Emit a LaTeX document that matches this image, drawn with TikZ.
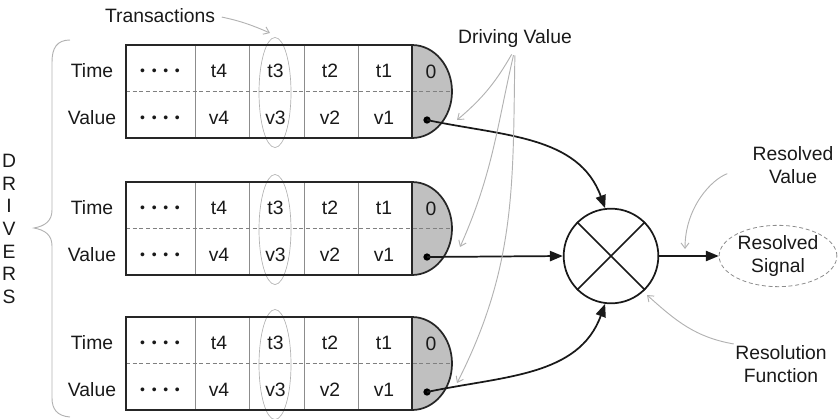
\documentclass[tikz,border=0pt]{standalone}
\usepackage{fontspec}
\setmainfont{Liberation Sans}
\usepackage{tikz}
\usetikzlibrary{arrows.meta,calc,positioning,shapes.geometric}
\definecolor{capgray}{RGB}{192,192,192}
\definecolor{notegray}{RGB}{178,178,178}
\newcommand{\fourdots}{{\fontsize{10.5}{10}\selectfont\textbullet\hspace{5pt}\textbullet\hspace{5pt}\textbullet\hspace{5pt}\textbullet}}
\tikzset{
  lbl/.style={font=\fontsize{14.5}{17}\selectfont,inner sep=1pt,text=black!90},
  frame/.style={draw=black!85,line width=1.3pt},
  capfill/.style={fill=capgray,draw=black!85,line width=1.3pt},
  colsep/.style={draw=black!45,line width=0.5pt},
  midline/.style={draw=black!50,densely dashed,line width=0.4pt},
  trans/.style={draw=notegray,line width=0.5pt},
  % thin grey pointers of the annotations
  note/.style={draw=notegray,line width=0.7pt,-{Straight Barb[length=4pt,width=6pt]}},
  flow/.style={draw=black!90,line width=1.3pt,-{Triangle[length=3.4mm,width=2.7mm]}},
  dotnode/.style={circle,fill=black,inner sep=0pt,minimum size=5.5pt},
  resfun/.style={circle,draw=black!90,line width=1.3pt,minimum size=71pt,inner sep=0pt},
  ressig/.style={ellipse,draw=black!45,densely dashed,line width=0.6pt,
    minimum width=87pt,minimum height=37pt,inner sep=0pt,align=center}
}
\begin{document}
\begin{tikzpicture}[x=0.75pt,y=0.75pt]
  \useasboundingbox (0,0) rectangle (838,-418);
  % the three driver queues
  \foreach \n/\yy in {1/45,2/182,3/317}{
    \pgfmathsetmacro\ya{-\yy}
    \pgfmathsetmacro\ym{-\yy-46.5}
    \pgfmathsetmacro\yb{-\yy-93}
    \filldraw[capfill] (412,\ya) arc[start angle=90,end angle=-90,x radius=40,y radius=46.5] -- cycle;
    \foreach \xx in {195,249,304,358} \draw[colsep] (\xx,\ya) -- (\xx,\yb);
    \draw[midline] (126,\ym) -- (452,\ym);
    \draw[trans] (275,{\ym-1}) ellipse[x radius=16,y radius=55];
    \draw[frame] (412,\ya) -- (126,\ya) -- (126,\yb) -- (412,\yb);
    \node[lbl] (time\n) at (92,{\ya-26}) {Time};
    \node[lbl] (value\n) at (92,{\ya-73}) {Value};
    \node[lbl] (tdots\n) at (160,{\ya-27}) {\fourdots};
    \node[lbl] (vdots\n) at (160,{\ya-74}) {\fourdots};
    \foreach \k/\xx in {4/219,3/275.5,2/330,1/384}{
      \node[lbl] (t\k-\n) at (\xx,{\ya-26}) {t\k};
      \node[lbl] (v\k-\n) at (\xx,{\ya-73}) {v\k};
    }
    \node[lbl] (zero\n) at (431,{\ya-27}) {0};
    \node[dotnode] (d\n) at (427,{\ya-75}) {};
  }

  \node[resfun] (res) at (611,-256) {};
  \draw[line width=1.3pt,black!90] (res.45) -- (res.225) (res.135) -- (res.315);
  \node[ressig,lbl] (sig) at (778,-256) {Resolved\\Signal};

  \draw[flow] (d1.center) to[out=-12,in=110] (res.97);
  \draw[flow] (d2.center) -- (res.west);
  \draw[flow] (d3.center) to[out=12,in=-110] (res.263);
  \draw[flow] (res.east) -- (sig.west);

  % annotations
  \node[lbl] (trlab) at (160,-16) {Transactions};
  \node[lbl] (dvlab) at (515,-38) {Driving Value};
  \node[lbl,align=center] (rvlab) at (793,-165) {Resolved\\Value};
  \node[lbl,align=center] (rflab) at (781,-364) {Resolution\\Function};
  \node[lbl,align=center] (drv) at (9,-229) {D\\R\\I\\V\\E\\R\\S};

  \coordinate (trtip) at (270,-33);
  \coordinate (dvtip1) at (457,-120);
  \coordinate (dvtip2) at (460,-247);
  \coordinate (dvtip3) at (457,-383);
  \coordinate (rvtip) at (685,-249);
  \coordinate (rftip) at (647,-295);

  \draw[note,shorten <=4pt] (trlab.east) to[bend left=6] (trtip);
  \draw[note,shorten <=5pt] (dvlab.south) to[out=240,in=40] (dvtip1);
  \draw[note,shorten <=5pt] (dvlab.south) to[out=257,in=66] (dvtip2);
  \draw[note,shorten <=5pt] (dvlab.south) to[out=269,in=63] (dvtip3);
  \draw[note,shorten <=19pt] (rvlab.west) to[out=200,in=90] (rvtip);
  \draw[note] (rflab.north west) to[out=170,in=-42] (rftip);

  % brace round the drivers
  \draw[notegray,line width=0.7pt] (70,-40) .. controls (57,-40) and (52,-48) .. (52,-62)
    -- (52,-210) .. controls (52,-221) and (45,-226) .. (34,-228)
    .. controls (45,-230) and (52,-235) .. (52,-246)
    -- (52,-398) .. controls (52,-409) and (57,-416) .. (70,-417);
\end{tikzpicture}
\end{document}
